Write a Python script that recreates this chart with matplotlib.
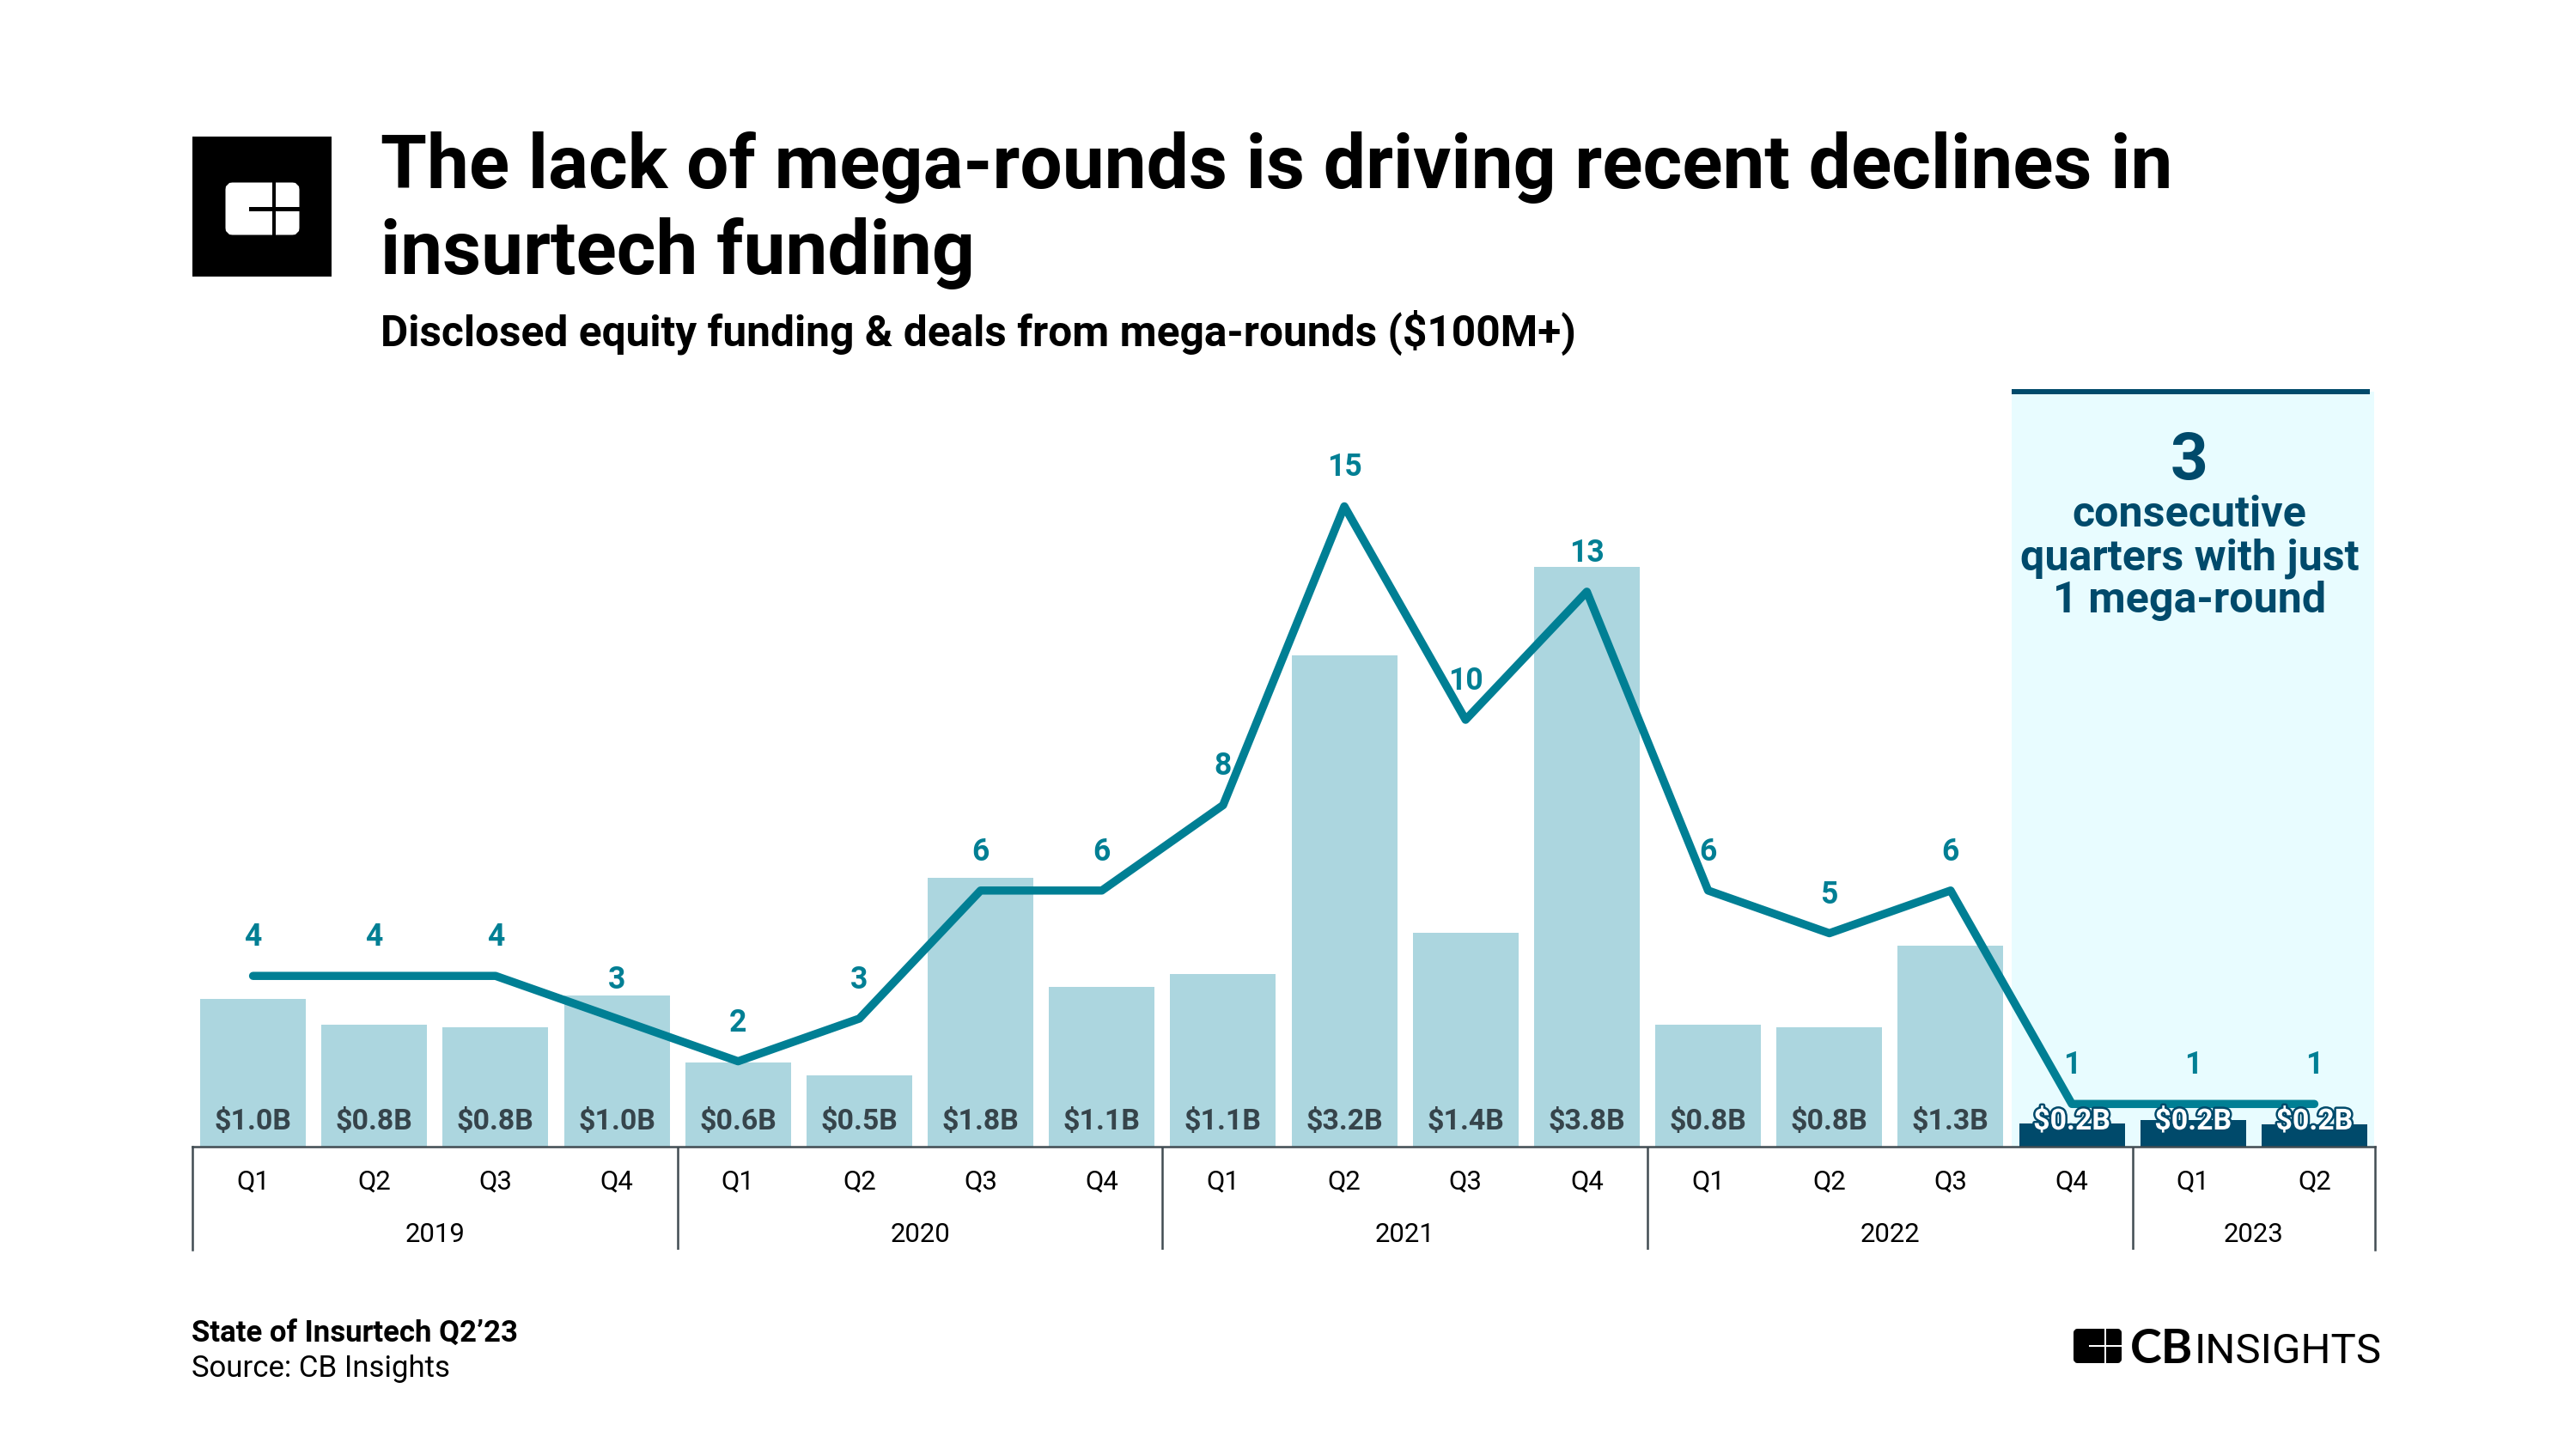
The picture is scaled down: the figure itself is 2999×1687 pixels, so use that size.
"""Insurtech mega-round funding vs deal count, Q1'19 - Q2'23."""
import matplotlib
matplotlib.use("Agg")
import matplotlib.pyplot as plt
import matplotlib.patheffects as pe
from matplotlib.patches import FancyBboxPatch, Rectangle

W, H = 2999, 1687
DPI = 200
PT = DPI / 72  # px per point

quarters = ["Q1", "Q2", "Q3", "Q4"] * 4 + ["Q1", "Q2"]
years = ["2019", "2020", "2021", "2022", "2023"]
year_centers = [1.5, 5.5, 9.5, 13.5, 16.5]
year_edges = [3.5, 7.5, 11.5, 15.5]
funding = [0.97, 0.80, 0.78, 0.99, 0.55, 0.47, 1.76, 1.05, 1.13,
           3.22, 1.40, 3.80, 0.80, 0.78, 1.32, 0.15, 0.175, 0.146]
funding_labels = ["$1.0B", "$0.8B", "$0.8B", "$1.0B", "$0.6B", "$0.5B", "$1.8B", "$1.1B", "$1.1B",
                  "$3.2B", "$1.4B", "$3.8B", "$0.8B", "$0.8B", "$1.3B", "$0.2B", "$0.2B", "$0.2B"]
deals = [4, 4, 4, 3, 2, 3, 6, 6, 8, 15, 10, 13, 6, 5, 6, 1, 1, 1]

BAR = "#ACD6DF"
DARK = "#004A6B"
TEAL = "#007F94"
PANEL = "#E8FCFF"
LABEL = "#36444B"
RULE = "#414C52"
FONT = "Roboto"

plt.rcParams["font.family"] = FONT

# chart box in pixels
LEFT, RIGHT, TOP, BASE = 224, 2765, 456, 1335
CAT_BOTTOM = 1455
PX_PER_B = 177.6
PX_PER_DEAL = 49.7


def px_axes(fig, x0, x1, y0, y1):
    """Axes from pixel box, y measured from the top of the figure."""
    return fig.add_axes([x0 / W, 1 - y1 / H, (x1 - x0) / W, (y1 - y0) / H])


fig = plt.figure(figsize=(W / DPI, H / DPI), dpi=DPI, facecolor="white")

# page layer for title, logo, footer
page = px_axes(fig, 0, W, 0, H)
page.set_xlim(0, W)
page.set_ylim(H, 0)
page.axis("off")

page.add_patch(Rectangle((224.5, 159), 162, 163, color="black", lw=0))
page.add_patch(FancyBboxPatch((270, 220), 71, 46, boxstyle="round,pad=0,rounding_size=1", fc="white", ec="white", lw=15 / PT))
page.add_patch(Rectangle((316.7, 208), 4.6, 70, color="black", lw=0))
page.add_patch(Rectangle((290.5, 240.5), 60, 5, color="black", lw=0))

page.text(443, 219, "The lack of mega-rounds is driving recent declines in", fontsize=31.45, fontweight="bold", color="black", va="baseline")
page.text(443, 319, "insurtech funding", fontsize=31.45, fontweight="bold", color="black", va="baseline")
page.text(443, 403, "Disclosed equity funding & deals from mega-rounds ($100M+)", fontsize=17.87, fontweight="bold", color="black", va="baseline")

page.text(223, 1562, "State of Insurtech Q2’23", fontsize=12.5, fontweight="bold", color="black", va="baseline")
page.text(223, 1603, "Source: CB Insights", fontsize=12.5, color="black", va="baseline")

# CB Insights wordmark
page.add_patch(FancyBboxPatch((2418, 1551), 48, 32, boxstyle="round,pad=0,rounding_size=1", fc="black", ec="black", lw=8 / PT))
page.add_patch(Rectangle((2450, 1544), 2.4, 46, color="white", lw=0))
page.add_patch(Rectangle((2432, 1566), 42, 2.4, color="white", lw=0))
page.text(2480, 1587, "CB", family="Lato", fontsize=20, fontweight="bold", color="black", va="baseline")
page.text(2555, 1587, "INSIGHTS", fontsize=17.7, color="black", va="baseline")

# bars + panel
ax = px_axes(fig, LEFT, RIGHT, TOP, BASE)
ax.patch.set_alpha(0)
ax.set_xlim(-0.5, 17.5)
ax.set_ylim(0, (BASE - TOP) / PX_PER_B)
ax.axis("off")
ax.axvspan(14.5, 17.49, color=PANEL, lw=0, zorder=0)
ax.plot([14.5, 17.46], [(BASE - TOP) / PX_PER_B] * 2, color=DARK, lw=6 / PT, clip_on=False, solid_capstyle="butt", zorder=1)

xs = list(range(len(funding)))
colors = [BAR] * 15 + [DARK] * 3
ax.bar(xs, funding, width=123 / 141.17, color=colors, lw=0, zorder=2)

# deals line
ax2 = ax.twinx()
ax2.set_ylim(0, (BASE - TOP) / PX_PER_DEAL)
ax2.axis("off")
ax2.plot(xs, deals, color=TEAL, lw=9.5 / PT, solid_capstyle="round", solid_joinstyle="round", zorder=3)

for x, d, lab, v in zip(xs, deals, funding_labels, funding):
    ax2.annotate(str(d), (x, d), xytext=(0, 35 / PT), textcoords="offset points", ha="center", va="baseline",
                 fontsize=12.8, fontweight="bold", color=TEAL, zorder=5)
    if v < 0.3:
        ax2.annotate(lab, (x, 0), xytext=(0, 20 / PT), textcoords="offset points", ha="center", va="baseline",
                     fontsize=12.2, fontweight="bold", color="white", zorder=5,
                     path_effects=[pe.withStroke(linewidth=5 / PT, foreground=DARK)])
    else:
        ax2.annotate(lab, (x, 0), xytext=(0, 20 / PT), textcoords="offset points", ha="center", va="baseline",
                     fontsize=12.2, fontweight="bold", color=LABEL, zorder=5)

# callout
cx = 2549
page2 = px_axes(fig, 0, W, 0, H)
page2.patch.set_alpha(0)
page2.set_xlim(0, W)
page2.set_ylim(H, 0)
page2.axis("off")
page2.text(cx, 558, "3", fontsize=27.5, fontweight="bold", color=DARK, ha="center", va="baseline")
for y, s in zip([613, 663, 713], ["consecutive", "quarters with just", "1 mega-round"]):
    page2.text(cx, y, s, fontsize=18.05, fontweight="bold", color=DARK, ha="center", va="baseline")

# two level category axis
cat = px_axes(fig, LEFT, RIGHT, BASE, CAT_BOTTOM)
cat.patch.set_alpha(0)
cat.set_xlim(-0.5, 17.5)
cat.set_ylim(CAT_BOTTOM - BASE, 0)
cat.set_xticks([])
cat.set_yticks([])
for name in ("top", "left", "right"):
    cat.spines[name].set_color(RULE)
    cat.spines[name].set_linewidth(2.5 / PT)
cat.spines["bottom"].set_visible(False)
cat.vlines(year_edges, 0, CAT_BOTTOM - BASE, color=RULE, lw=2.5 / PT)
for x, q in zip(xs, quarters):
    cat.text(x, 50, q, fontsize=11.2, color="black", ha="center", va="baseline")
for x, y in zip(year_centers, years):
    cat.text(x, 111, y, fontsize=11.2, color="black", ha="center", va="baseline")

fig.savefig("out.png", dpi=DPI, facecolor="white")
